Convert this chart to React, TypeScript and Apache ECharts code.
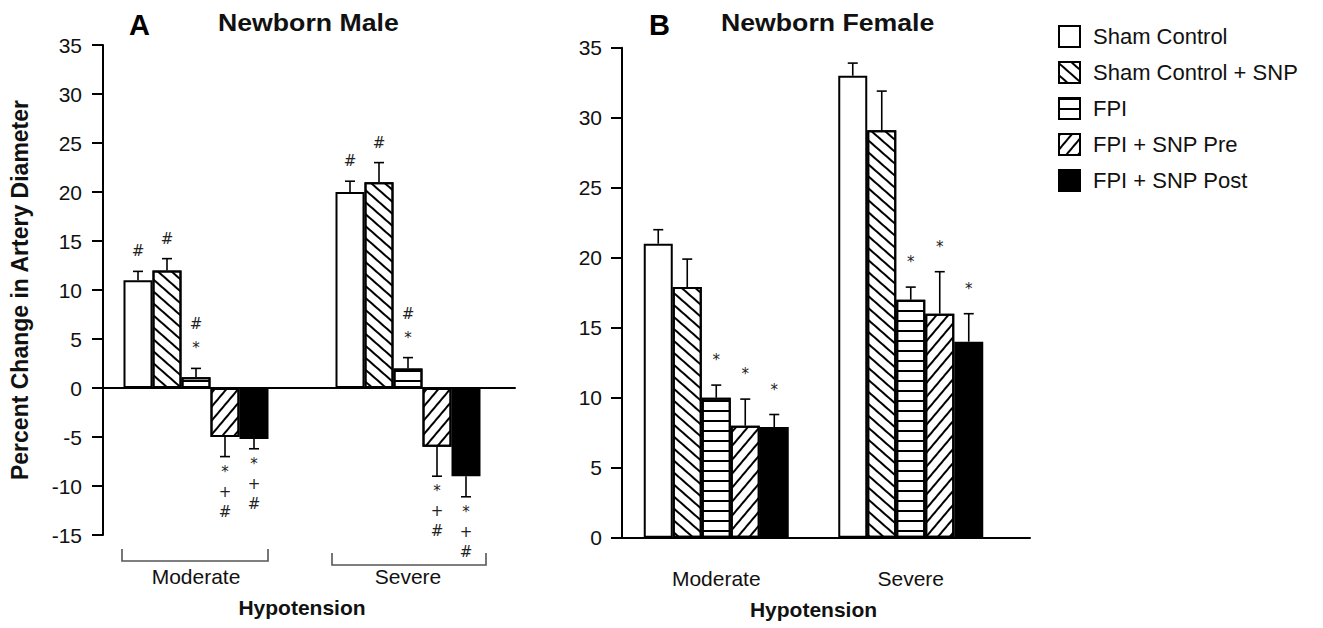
import React, { useEffect, useRef } from "react";
import * as echarts from "echarts";

// Groups on the x axis and the five treatments (one bar each per group)
const groups = ["Moderate", "Severe"];
const treatments = [
  "Sham Control",
  "Sham Control + SNP",
  "FPI",
  "FPI + SNP Pre",
  "FPI + SNP Post",
];

// Newborn male: percent change in artery diameter, [Moderate, Severe] per treatment
const maleMean = [
  [11, 20],
  [12, 21],
  [1.1, 2],
  [-5, -6],
  [-5.2, -9],
];
const maleSem = [
  [0.9, 1.1],
  [1.2, 2],
  [0.9, 1.1],
  [2, 3],
  [1, 2.1],
];
const maleMarks = [
  ["#", "#"],
  ["#", "#"],
  ["#\n*", "#\n*"],
  ["*\n+\n#", "*\n+\n#"],
  ["*\n+\n#", "*\n+\n#"],
];

// Newborn female
const femaleMean = [
  [21, 33],
  [17.9, 29.1],
  [10, 17],
  [8, 16],
  [7.9, 14],
];
const femaleSem = [
  [1, 0.9],
  [2, 2.8],
  [0.9, 0.9],
  [1.9, 3],
  [0.9, 2],
];
const femaleMarks = [
  ["", ""],
  ["", ""],
  ["*", "*"],
  ["*", "*"],
  ["*", "*"],
];

// Y-axis ranges
const maleAxis = { min: -15, max: 35, interval: 5 };
const femaleAxis = { min: 0, max: 35, interval: 5 };

const FONT = "'Liberation Sans', Arial, Helvetica, sans-serif";
const MARK_FONT = "'DejaVu Sans', 'Liberation Sans', sans-serif";
const INK = "#111";
const BAR_W = 29;

// Fill style for each treatment: plain, back-hatch, horizontal lines, forward hatch, solid
const stripe = (rotation: number, gap: number) => ({
  symbol: "rect",
  symbolSize: 1,
  dashArrayX: [1, 0],
  dashArrayY: [1.5, gap],
  rotation,
  color: "#000",
});
const fills: any[] = [
  { color: "#fff" },
  { color: "#fff", decal: stripe(0.72, 6.8) },
  { color: "#fff", decal: stripe(0, 7.9) },
  { color: "#fff", decal: stripe(-0.87, 6.8) },
  { color: "#000" },
];

function barSeries(mean: number[][], axisIndex: number) {
  return mean.map((vals, s) => ({
    name: treatments[s],
    type: "bar",
    xAxisIndex: axisIndex,
    yAxisIndex: axisIndex,
    barWidth: BAR_W,
    barGap: "0%",
    data: vals,
    z: 3,
    itemStyle: {
      color: fills[s].color,
      decal: fills[s].decal,
      borderColor: "#000",
      borderWidth: 2,
    },
  }));
}

function errorSeries(
  mean: number[][],
  sem: number[][],
  marks: string[][],
  axisIndex: number,
  upGap: number,
  upLine: number
) {
  const data: number[][] = [];
  mean.forEach((vals, s) =>
    vals.forEach((v, g) => data.push([g, v, sem[s][g], s]))
  );
  return {
    type: "custom",
    xAxisIndex: axisIndex,
    yAxisIndex: axisIndex,
    clip: false,
    silent: true,
    z: 5,
    encode: { x: 0, y: 1 },
    data,
    renderItem: (_params: any, api: any) => {
      const g = api.value(0);
      const v = api.value(1);
      const e = api.value(2);
      const s = api.value(3);
      const dir = v >= 0 ? 1 : -1;
      const base = api.coord([g, v]);
      const end = api.coord([g, v + dir * e]);
      const x = base[0] + (s - 2) * BAR_W;
      const mark = marks[s][g];
      const children: any[] = [
        {
          type: "line",
          shape: { x1: x, y1: base[1], x2: x, y2: end[1] },
          style: { stroke: "#000", lineWidth: 1.6 },
        },
        {
          type: "line",
          shape: { x1: x - 5, y1: end[1], x2: x + 5, y2: end[1] },
          style: { stroke: "#000", lineWidth: 1.6 },
        },
      ];
      if (mark) {
        children.push({
          type: "text",
          x,
          y: dir > 0 ? end[1] - upGap : end[1] + 5,
          style: {
            text: mark,
            align: "center",
            verticalAlign: dir > 0 ? "bottom" : "top",
            fontFamily: MARK_FONT,
            fontSize: 15,
            lineHeight: dir > 0 ? upLine : 20,
            fill: "#222",
          },
        });
      }
      return { type: "group", children };
    },
  };
}

export default function App() {
  const ref = useRef<HTMLDivElement>(null);

  useEffect(() => {
    document.body.style.margin = "0";
    if (!ref.current) return;
    const chart = echarts.init(ref.current, undefined, { renderer: "svg" });

    const axisLine = { show: true, lineStyle: { color: "#000", width: 2 } };
    const tickLabel = { fontFamily: FONT, fontSize: 21, color: INK };

    const option: any = {
      animation: false,
      backgroundColor: "#fff",
      textStyle: { fontFamily: FONT },
      legend: {
        data: treatments,
        orient: "vertical",
        left: 1053,
        top: 20,
        itemWidth: 21,
        itemHeight: 21,
        itemGap: 13,
        icon: "rect",
        selectedMode: false,
        textStyle: { fontFamily: FONT, fontSize: 22, color: INK, padding: [0, 0, 0, 8] },
      },
      grid: [
        // 0: panel A frame (y axis + zero line)
        { left: 103, top: 45, width: 412, height: 490 },
        // 1: panel A bars
        { left: 90, top: 45, width: 424, height: 490 },
        // 2: panel B frame
        { left: 622, top: 47.7, width: 408, height: 490 },
        // 3: panel B bars
        { left: 619, top: 47.7, width: 389, height: 490 },
      ],
      xAxis: [
        {
          gridIndex: 0,
          type: "value",
          min: 0,
          max: 1,
          axisLine: { ...axisLine, onZero: true },
          axisTick: { show: false },
          axisLabel: { show: false },
          splitLine: { show: false },
        },
        {
          gridIndex: 1,
          type: "category",
          data: groups,
          axisLine: { show: false, onZero: false },
          axisTick: { show: false },
          axisLabel: { ...tickLabel, margin: 31 },
          name: "Hypotension",
          nameLocation: "middle",
          nameGap: 62,
          nameTextStyle: { fontFamily: FONT, fontSize: 21, fontWeight: "bold", color: INK },
        },
        {
          gridIndex: 2,
          type: "value",
          min: 0,
          max: 1,
          axisLine: { ...axisLine, onZero: true },
          axisTick: { show: false },
          axisLabel: { show: false },
          splitLine: { show: false },
        },
        {
          gridIndex: 3,
          type: "category",
          data: groups,
          axisLine: { show: false, onZero: false },
          axisTick: { show: false },
          axisLabel: { ...tickLabel, margin: 30 },
          name: "Hypotension",
          nameLocation: "middle",
          nameGap: 61,
          nameTextStyle: { fontFamily: FONT, fontSize: 21, fontWeight: "bold", color: INK },
        },
      ],
      yAxis: [
        {
          gridIndex: 0,
          type: "value",
          ...maleAxis,
          axisLine: { ...axisLine, onZero: false },
          axisTick: { show: true, length: 11, lineStyle: { color: "#000", width: 2 } },
          axisLabel: { ...tickLabel, margin: 21 },
          splitLine: { show: false },
          name: "Percent Change in Artery Diameter",
          nameLocation: "middle",
          nameGap: 72,
          nameTextStyle: { fontFamily: FONT, fontSize: 23, fontWeight: "bold", color: INK },
        },
        {
          gridIndex: 1,
          type: "value",
          ...maleAxis,
          show: false,
        },
        {
          gridIndex: 2,
          type: "value",
          ...femaleAxis,
          axisLine: { ...axisLine, onZero: false },
          axisTick: { show: true, length: 11, lineStyle: { color: "#000", width: 2 } },
          axisLabel: { ...tickLabel, margin: 20 },
          splitLine: { show: false },
        },
        {
          gridIndex: 3,
          type: "value",
          ...femaleAxis,
          show: false,
        },
      ],
      series: [
        ...barSeries(maleMean, 1),
        errorSeries(maleMean, maleSem, maleMarks, 1, 8, 24),
        ...barSeries(femaleMean, 3),
        errorSeries(femaleMean, femaleSem, femaleMarks, 3, 15, 20),
      ],
      graphic: [
        {
          type: "text",
          x: 129,
          y: 25,
          style: { text: "A", fontFamily: FONT, fontSize: 29, fontWeight: "bold", fill: "#000", verticalAlign: "middle" },
        },
        {
          type: "text",
          x: 218,
          y: 23,
          scaleX: 1.16,
          style: { text: "Newborn Male", fontFamily: FONT, fontSize: 23, fontWeight: "bold", fill: INK, verticalAlign: "middle" },
        },
        {
          type: "text",
          x: 649,
          y: 25,
          style: { text: "B", fontFamily: FONT, fontSize: 29, fontWeight: "bold", fill: "#000", verticalAlign: "middle" },
        },
        {
          type: "text",
          x: 721,
          y: 23,
          scaleX: 1.16,
          style: { text: "Newborn Female", fontFamily: FONT, fontSize: 23, fontWeight: "bold", fill: INK, verticalAlign: "middle" },
        },
        // group brackets under panel A
        {
          type: "polyline",
          shape: { points: [[122, 549], [122, 561], [268, 561], [268, 549]] },
          style: { stroke: "#555", lineWidth: 1.6, fill: null },
        },
        {
          type: "polyline",
          shape: { points: [[332, 553], [332, 565], [486, 565], [486, 553]] },
          style: { stroke: "#555", lineWidth: 1.6, fill: null },
        },
      ],
    };

    chart.setOption(option);
    return () => chart.dispose();
  }, []);

  return <div ref={ref} style={{ width: 1323, height: 628 }} />;
}
